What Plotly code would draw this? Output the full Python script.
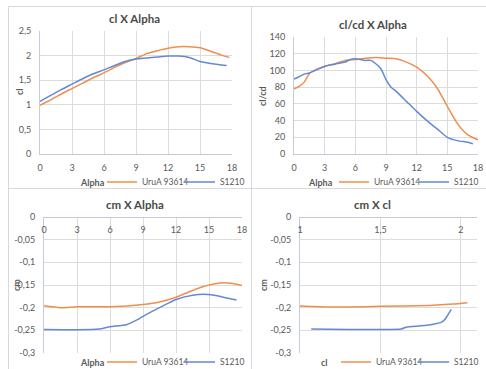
import plotly.graph_objects as go

# ---------------- data ----------------
series_names = ["UruA 93614", "S1210"]

# cl X Alpha
alpha_cl_uru = [0, 1, 2, 3, 4, 5, 6, 7, 8, 9, 10, 11, 12, 13, 14, 15, 16, 17, 17.75]
cl_uru = [0.99, 1.10, 1.22, 1.33, 1.44, 1.55, 1.65, 1.76, 1.86, 1.94, 2.04, 2.10, 2.15, 2.18, 2.18, 2.16, 2.09, 2.01, 1.96]
alpha_cl_s = [0, 1, 2, 3, 4, 5, 6, 7, 8, 9, 10, 11, 12, 13, 14, 15, 16, 17, 17.5]
cl_s = [1.07, 1.19, 1.31, 1.42, 1.53, 1.63, 1.71, 1.80, 1.88, 1.93, 1.95, 1.97, 1.99, 1.99, 1.96, 1.88, 1.84, 1.81, 1.80]

# cl/cd X Alpha
alpha_ld_uru = [0, 0.5, 1, 1.5, 2, 3, 4, 5, 6, 7, 8, 9, 10, 11, 12, 13, 14, 15, 16, 17, 18]
ld_uru = [78, 81, 86, 96, 100, 105, 108, 112, 113, 114.7, 115.5, 114.7, 114, 110, 104, 94, 79, 57, 36, 23, 17]
alpha_ld_s = [0, 0.5, 1, 1.5, 2, 3, 4, 5, 5.5, 6, 7, 7.5, 8, 8.5, 9, 9.5, 10, 11, 12, 13, 14, 15, 16, 17, 17.5]
ld_s = [89.7, 92.5, 95.6, 97, 99.6, 104.8, 107.5, 110, 113, 114, 112, 112, 108, 102, 89, 80, 75, 63, 51, 40, 30, 20, 16, 14, 12.3]

# cm X Alpha
alpha_cm_uru = [0, 1.5, 3, 6, 9, 10.5, 12, 13.5, 15, 16, 17, 18]
cm_uru = [-0.196, -0.2, -0.198, -0.198, -0.193, -0.1875, -0.177, -0.162, -0.15, -0.1456, -0.146, -0.151]
alpha_cm_s = [0, 3, 5, 6, 7.5, 8.5, 9, 10.5, 12, 13.5, 14.5, 15.5, 16.5, 17.5]
cm_s = [-0.248, -0.2485, -0.247, -0.242, -0.2375, -0.2265, -0.219, -0.2, -0.182, -0.1728, -0.1706, -0.1728, -0.178, -0.183]

# cm X cl
cl_cm_uru = [0.99, 1.2, 1.5, 1.8, 1.95, 2.04]
cm_cl_uru = [-0.196, -0.1985, -0.197, -0.195, -0.192, -0.189]
cl_cm_s = [1.07, 1.3, 1.5, 1.63, 1.66, 1.75, 1.82, 1.88, 1.90, 1.92, 1.94]
cm_cl_s = [-0.247, -0.248, -0.248, -0.247, -0.243, -0.24, -0.237, -0.232, -0.226, -0.2155, -0.204]

# tick labels
alpha_ticks = [0, 3, 6, 9, 12, 15, 18]
alpha_ticktext = ["0", "3", "6", "9", "12", "15", "18"]
cl_ticks = [0, 0.5, 1, 1.5, 2, 2.5]
cl_ticktext = ["0", "0,5", "1", "1,5", "2", "2,5"]
ld_ticks = [0, 20, 40, 60, 80, 100, 120, 140]
ld_ticktext = ["0", "20", "40", "60", "80", "100", "120", "140"]
cm_ticks = [-0.3, -0.25, -0.2, -0.15, -0.1, -0.05, 0]
cm_ticktext = ["-0,3", "-0,25", "-0,2", "-0,15", "-0,1", "-0,05", "0"]
clx_ticks = [1, 1.5, 2]
clx_ticktext = ["1", "1,5", "2"]

# ---------------- style ----------------
W, H = 486, 369
FONT = "Lato, 'Open Sans', sans-serif"
ORANGE = "#EF8E4F"
BLUE = "#6389D3"
GRID = "#dcdcdc"
AXL = "#c3cbdc"
TICKC = "#595959"
TITLEC = "#4a4a4a"

def px(x):
    return x / W

def py(y):
    return 1 - y / H

fig = go.Figure()

def add(x, y, color, name, xa, ya, leg):
    fig.add_trace(go.Scatter(x=x, y=y, mode="lines", name=name,
                             line=dict(color=color, width=1.5, shape="spline", smoothing=0.6),
                             xaxis=xa, yaxis=ya, legend=leg, showlegend=True,
                             hoverinfo="skip"))

add(alpha_cl_uru, cl_uru, ORANGE, series_names[0], "x", "y", "legend")
add(alpha_cl_s, cl_s, BLUE, series_names[1], "x", "y", "legend2")
add(alpha_ld_uru, ld_uru, ORANGE, series_names[0], "x2", "y2", "legend3")
add(alpha_ld_s, ld_s, BLUE, series_names[1], "x2", "y2", "legend4")
add(alpha_cm_uru, cm_uru, ORANGE, series_names[0], "x3", "y3", "legend5")
add(alpha_cm_s, cm_s, BLUE, series_names[1], "x3", "y3", "legend6")
add(cl_cm_uru, cm_cl_uru, ORANGE, series_names[0], "x4", "y4", "legend7")
add(cl_cm_s, cm_cl_s, BLUE, series_names[1], "x4", "y4", "legend8")

tickfont = dict(family=FONT, size=9, color=TICKC)

d1x = [px(40), px(232)]; d1y = [py(154), py(31)]
d2x = [px(294), px(478)]; d2y = [py(154), py(37)]
d3x = [px(44), px(242)]; d3y = [py(353), py(217)]
d4x = [px(300), px(477)]; d4y = [py(353), py(217)]

def xax(domain, anchor, rng, tv, tt, top_pos=None):
    d = dict(domain=domain, anchor=anchor, range=rng, tickvals=tv, ticktext=tt,
             showgrid=True, gridcolor=GRID, gridwidth=1, zeroline=False,
             showline=True, linecolor=AXL, linewidth=1, ticks="",
             tickfont=tickfont, fixedrange=True, ticklabelstandoff=5,
             automargin=False)
    if top_pos is not None:
        d.update(anchor="free", position=top_pos, side="bottom", ticklabelstandoff=4)
    return d

def yax(domain, anchor, rng, tv, tt):
    return dict(domain=domain, anchor=anchor, range=rng, tickvals=tv, ticktext=tt,
                showgrid=True, gridcolor=GRID, gridwidth=1, zeroline=False,
                showline=True, linecolor=AXL, linewidth=1, ticks="",
                tickfont=tickfont, fixedrange=True, ticklabelstandoff=6,
                automargin=False)

legend_common = dict(orientation="h", xanchor="left", yanchor="middle",
                     bgcolor="rgba(0,0,0,0)", borderwidth=0,
                     font=dict(family=FONT, size=8.5, color=TICKC))

def leg(xp, yp):
    d = dict(legend_common)
    d.update(x=px(xp), y=py(yp))
    return d

annotations = []
def ann(text, x, y, size, bold=True, angle=0, color=TITLEC):
    annotations.append(dict(text=("<b>%s</b>" % text) if bold else text,
                            x=px(x), y=py(y), xref="paper", yref="paper",
                            showarrow=False, textangle=angle,
                            xanchor="center", yanchor="middle",
                            font=dict(family=FONT, size=size, color=color)))

ann("cl X Alpha", 134, 18, 11.5)
ann("cl/cd X Alpha", 373, 24, 11.5)
ann("cm X Alpha", 135, 204, 11.5)
ann("cm X cl", 372, 204, 11.5)
ann("cl", 19, 92, 9, angle=-90, color=TICKC)
ann("cl/cd", 262, 96, 9, angle=-90, color=TICKC)
ann("cm", 16, 285, 9, angle=-90, color=TICKC)
ann("cm", 263, 285, 9, angle=-90, color=TICKC)
ann("Alpha", 92, 182, 9, color=TICKC)
ann("Alpha", 320, 182, 9, color=TICKC)
ann("Alpha", 92, 362, 9, color=TICKC)
ann("cl", 324, 362, 9, color=TICKC)

BORDER = "#d9d9d9"
shapes = [
    dict(type="line", xref="paper", yref="paper", x0=px(8.5), x1=1, y0=py(6.5), y1=py(6.5), line=dict(color=BORDER, width=1)),
    dict(type="line", xref="paper", yref="paper", x0=px(8.5), x1=px(8.5), y0=0, y1=py(6.5), line=dict(color=BORDER, width=1)),
    dict(type="line", xref="paper", yref="paper", x0=px(8.5), x1=1, y0=py(188.5), y1=py(188.5), line=dict(color=BORDER, width=1)),
    dict(type="line", xref="paper", yref="paper", x0=px(251.5), x1=px(251.5), y0=0, y1=py(6.5), line=dict(color=BORDER, width=1)),
]

fig.update_layout(
    template="none",
    width=W, height=H, autosize=False,
    margin=dict(l=0, r=0, t=0, b=0, autoexpand=False),
    paper_bgcolor="white", plot_bgcolor="white",
    font=dict(family=FONT, size=9, color=TICKC),
    xaxis=xax(d1x, "y", [0, 18], alpha_ticks, alpha_ticktext),
    yaxis=yax(d1y, "x", [0, 2.5], cl_ticks, cl_ticktext),
    xaxis2=xax(d2x, "y2", [0, 18], alpha_ticks, alpha_ticktext),
    yaxis2=yax(d2y, "x2", [0, 140], ld_ticks, ld_ticktext),
    xaxis3=xax(d3x, "y3", [0, 18], alpha_ticks, alpha_ticktext, top_pos=d3y[1]),
    yaxis3=yax(d3y, "x3", [-0.3, 0], cm_ticks, cm_ticktext),
    xaxis4=xax(d4x, "y4", [1, 2.1], clx_ticks, clx_ticktext, top_pos=d4y[1]),
    yaxis4=yax(d4y, "x4", [-0.3, 0], cm_ticks, cm_ticktext),
    legend=leg(102, 182), legend2=leg(180, 182),
    legend3=leg(334, 182), legend4=leg(414, 182),
    legend5=leg(102, 362), legend6=leg(180, 362),
    legend7=leg(336, 362), legend8=leg(414, 362),
    annotations=annotations, shapes=shapes,
    showlegend=True,
)

fig.write_html("out.html",
               config={"displayModeBar": False, "staticPlot": False},
               post_script="document.body.style.margin='0px';document.body.style.overflow='hidden';")
